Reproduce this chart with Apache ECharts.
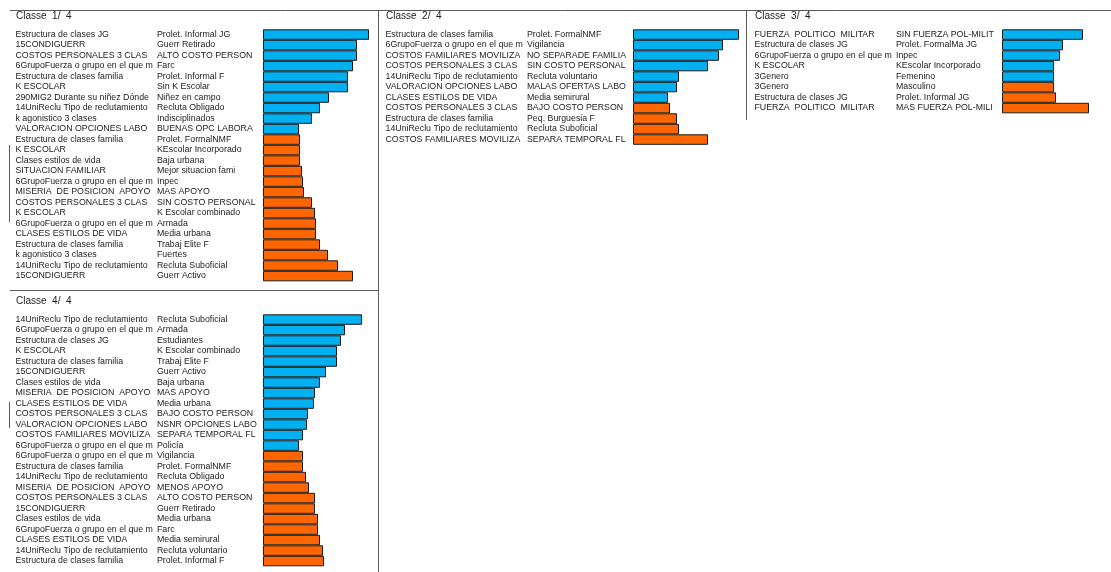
<!DOCTYPE html>
<html>
<head>
<meta charset="utf-8">
<script src="https://cdn.jsdelivr.net/npm/echarts@6/dist/echarts.min.js"></script>
<style>
  html, body { margin: 0; padding: 0; background: #fff; }
  #chart { width: 1111px; height: 572px; }
</style>
</head>
<body>
<div id="chart"></div>
<script>
// Characterisation of the four classes: variable, modality and test value
// (positive = over-represented, negative = under-represented).

const titles = ['Classe  1/  4', 'Classe  2/  4', 'Classe  3/  4', 'Classe  4/  4'];

const class1Vars = [
  'Estructura de clases JG', '15CONDIGUERR', 'COSTOS PERSONALES 3 CLAS',
  '6GrupoFuerza o grupo en el que m', 'Estructura de clases familia', 'K ESCOLAR',
  '290MIG2 Durante su niñez Dónde', '14UniReclu Tipo de reclutamiento', 'k agonistico 3 clases',
  'VALORACION OPCIONES LABO', 'Estructura de clases familia', 'K ESCOLAR',
  'Clases estilos de vida', 'SITUACION FAMILIAR', '6GrupoFuerza o grupo en el que m',
  'MISERIA  DE POSICION  APOYO', 'COSTOS PERSONALES 3 CLAS', 'K ESCOLAR',
  '6GrupoFuerza o grupo en el que m', 'CLASES ESTILOS DE VIDA', 'Estructura de clases familia',
  'k agonistico 3 clases', '14UniReclu Tipo de reclutamiento', '15CONDIGUERR'
];
const class1Mods = [
  'Prolet. Informal JG', 'Guerr Retirado', 'ALTO COSTO PERSON', 'Farc', 'Prolet. Informal F',
  'Sin K Escolar', 'Niñez en campo', 'Recluta Obligado', 'Indisciplinados', 'BUENAS OPC LABORA',
  'Prolet. FormalNMF', 'KEscolar Incorporado', 'Baja urbana', 'Mejor situacion fami', 'Inpec',
  'MAS APOYO', 'SIN COSTO PERSONAL', 'K Escolar combinado', 'Armada', 'Media urbana',
  'Trabaj Elite F', 'Fuertes', 'Recluta Suboficial', 'Guerr Activo'
];
const class1Values = [
  10.6, 9.4, 9.4, 9.0, 8.5, 8.5, 6.6, 5.7, 4.9, 3.6,
  -3.7, -3.7, -3.7, -3.9, -4.0, -4.1, -4.9, -5.2, -5.3, -5.3, -5.7, -6.5, -7.5, -9.0
];

const class2Vars = [
  'Estructura de clases familia', '6GrupoFuerza o grupo en el que m', 'COSTOS FAMILIARES MOVILIZA',
  'COSTOS PERSONALES 3 CLAS', '14UniReclu Tipo de reclutamiento', 'VALORACION OPCIONES LABO',
  'CLASES ESTILOS DE VIDA', 'COSTOS PERSONALES 3 CLAS', 'Estructura de clases familia',
  '14UniReclu Tipo de reclutamiento', 'COSTOS FAMILIARES MOVILIZA'
];
const class2Mods = [
  'Prolet. FormalNMF', 'Vigilancia', 'NO SEPARADE FAMILIA', 'SIN COSTO PERSONAL',
  'Recluta voluntario', 'MALAS OFERTAS LABO', 'Media semirural', 'BAJO COSTO PERSON',
  'Peq. Burguesia F', 'Recluta Suboficial', 'SEPARA TEMPORAL FL'
];
const class2Values = [10.6, 9.0, 8.6, 7.5, 4.6, 4.4, 3.5, -3.7, -4.4, -4.6, -7.5];

const class3Vars = [
  'FUERZA  POLITICO  MILITAR', 'Estructura de clases JG', '6GrupoFuerza o grupo en el que m',
  'K ESCOLAR', '3Genero', '3Genero', 'Estructura de clases JG', 'FUERZA  POLITICO  MILITAR'
];
const class3Mods = [
  'SIN FUERZA POL-MILIT', 'Prolet. FormalMa JG', 'Inpec', 'KEscolar Incorporado',
  'Femenino', 'Masculino', 'Prolet. Informal JG', 'MAS FUERZA POL-MILI'
];
const class3Values = [8.1, 6.1, 5.8, 5.2, 5.2, -5.2, -5.4, -8.7];

const class4Vars = [
  '14UniReclu Tipo de reclutamiento', '6GrupoFuerza o grupo en el que m', 'Estructura de clases JG',
  'K ESCOLAR', 'Estructura de clases familia', '15CONDIGUERR', 'Clases estilos de vida',
  'MISERIA  DE POSICION  APOYO', 'CLASES ESTILOS DE VIDA', 'COSTOS PERSONALES 3 CLAS',
  'VALORACION OPCIONES LABO', 'COSTOS FAMILIARES MOVILIZA', '6GrupoFuerza o grupo en el que m',
  '6GrupoFuerza o grupo en el que m', 'Estructura de clases familia', '14UniReclu Tipo de reclutamiento',
  'MISERIA  DE POSICION  APOYO', 'COSTOS PERSONALES 3 CLAS', '15CONDIGUERR', 'Clases estilos de vida',
  '6GrupoFuerza o grupo en el que m', 'CLASES ESTILOS DE VIDA', '14UniReclu Tipo de reclutamiento',
  'Estructura de clases familia'
];
const class4Mods = [
  'Recluta Suboficial', 'Armada', 'Estudiantes', 'K Escolar combinado', 'Trabaj Elite F',
  'Guerr Activo', 'Baja urbana', 'MAS APOYO', 'Media urbana', 'BAJO COSTO PERSON',
  'NSNR OPCIONES LABO', 'SEPARA TEMPORAL FL', 'Policía', 'Vigilancia', 'Prolet. FormalNMF',
  'Recluta Obligado', 'MENOS APOYO', 'ALTO COSTO PERSON', 'Guerr Retirado', 'Media urbana',
  'Farc', 'Media semirural', 'Recluta voluntario', 'Prolet. Informal F'
];
const class4Values = [
  9.9, 8.2, 7.8, 7.4, 7.4, 6.3, 5.7, 5.2, 5.1, 4.5, 4.4, 4.0, 3.6,
  -4.0, -4.0, -4.3, -4.6, -5.2, -5.2, -5.5, -5.5, -5.7, -6.0, -6.1
];

// ---- layout & style ----
const FONT = '"Liberation Sans", Arial, sans-serif';
const TEXT = '#1c1c1c';
const POS = '#00b0f0';
const NEG = '#ff6600';
const ROW = 10.5;          // height of one modality row
const SCALE_MAX = 12;      // value at the right edge of each bar area
const BAR_AREA = 120;      // px for SCALE_MAX

const panels = [
  { vars: class1Vars, mods: class1Mods, values: class1Values, left: 263, top: 29.3, tx: 16,  ty: 11 },
  { vars: class2Vars, mods: class2Mods, values: class2Values, left: 633, top: 29.3, tx: 386, ty: 11 },
  { vars: class3Vars, mods: class3Mods, values: class3Values, left: 1002, top: 29.3, tx: 755, ty: 11 },
  { vars: class4Vars, mods: class4Mods, values: class4Values, left: 263, top: 314.3, tx: 16, ty: 296 }
];

const grid = [], xAxis = [], yAxis = [], series = [], title = [];

panels.forEach((p, k) => {
  title.push({
    text: titles[k], left: p.tx, top: p.ty, padding: 0,
    textStyle: { fontFamily: FONT, fontSize: 10, fontWeight: 'normal', color: TEXT }
  });
  grid.push({
    left: p.left, top: p.top, width: BAR_AREA, height: p.values.length * ROW,
    containLabel: false, outerBoundsMode: 'none'
  });
  xAxis.push({ gridIndex: k, type: 'value', min: 0, max: SCALE_MAX, show: false });
  yAxis.push({
    gridIndex: k, type: 'category', inverse: true,
    data: p.values.map((_, i) => String(i)),
    axisLine: { show: false }, axisTick: { show: false }, splitLine: { show: false },
    axisLabel: {
      interval: 0, margin: 0, align: 'right',
      formatter: (v, i) => '{a|' + p.vars[i] + '}{b|' + p.mods[i] + '}',
      rich: {
        a: { width: 141.5, align: 'left', fontFamily: FONT, fontSize: 8.8, color: TEXT },
        b: { width: 106, align: 'left', fontFamily: FONT, fontSize: 8.8, color: TEXT }
      }
    }
  });
  series.push({
    type: 'bar', xAxisIndex: k, yAxisIndex: k,
    barCategoryGap: '0%', animation: false, silent: true, clip: false,
    data: p.values.map(v => ({
      value: Math.abs(v),
      itemStyle: { color: v > 0 ? POS : NEG, borderColor: '#1a1a1a', borderWidth: 1 }
    }))
  });
});

// panel frames
const frameLine = (x1, y1, x2, y2) => ({
  type: 'line', silent: true,
  shape: { x1, y1, x2, y2 },
  style: { stroke: '#5a5a5a', lineWidth: 1 }
});
const graphic = [
  frameLine(10, 10.5, 1111, 10.5),
  frameLine(378.5, 10, 378.5, 572),
  frameLine(746.5, 10, 746.5, 120),
  frameLine(10, 290.5, 378, 290.5),
  frameLine(9.5, 145, 9.5, 222),
  frameLine(9.5, 402, 9.5, 428)
];

const chart = echarts.init(document.getElementById('chart'), null, { renderer: 'canvas' });
chart.setOption({
  animation: false,
  backgroundColor: '#ffffff',
  title, grid, xAxis, yAxis, series, graphic
});
</script>
</body>
</html>
